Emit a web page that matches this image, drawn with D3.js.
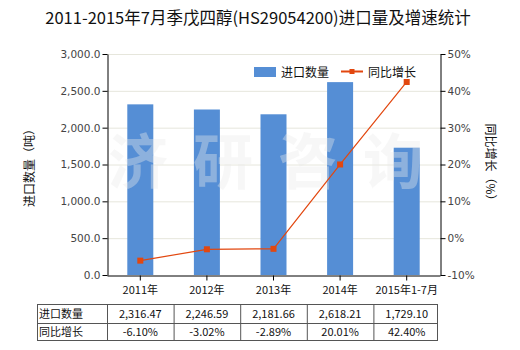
<!DOCTYPE html>
<html>
<head>
<meta charset="utf-8">
<script src="https://cdn.jsdelivr.net/npm/d3@7"></script>
<style>
  html, body { margin: 0; padding: 0; background: #fff; }
  svg { display: block; font-family: "Noto Sans CJK SC", "Noto Sans", sans-serif; }
</style>
</head>
<body>
<svg id="chart" width="520" height="350"></svg>
<script>
// Import volume (tonnes) and year-on-year growth (%) of pentaerythritol
const categories = ["2011年", "2012年", "2013年", "2014年", "2015年1-7月"];
const volumes = [2316.47, 2246.59, 2181.66, 2618.21, 1729.10];
const growth = [-6.10, -3.02, -2.89, 20.01, 42.40];
const volumeLabels = ["2,316.47", "2,246.59", "2,181.66", "2,618.21", "1,729.10"];
const growthLabels = ["-6.10%", "-3.02%", "-2.89%", "20.01%", "42.40%"];
const leftTicks = [0, 500, 1000, 1500, 2000, 2500, 3000];
const rightTicks = [-10, 0, 10, 20, 30, 40, 50];

const svg = d3.select("#chart");
const plot = { left: 107, right: 440, top: 54, bottom: 275 };

const xc = d3.scaleBand().domain(categories).range([plot.left, plot.right]);
const yL = d3.scaleLinear().domain([0, 3000]).range([plot.bottom, plot.top]);
const yR = d3.scaleLinear().domain([-10, 50]).range([plot.bottom, plot.top]);

const barColor = "#558ed5";
const lineColor = "#e2470f";

// Title
svg.append("text").attr("x", 258).attr("y", 24).attr("text-anchor", "middle")
  .attr("font-size", 16.5).attr("fill", "#111")
  .text("2011-2015年7月季戊四醇(HS29054200)进口量及增速统计");

// Grid lines
svg.append("g").selectAll("line").data(leftTicks.filter(d => d > 0)).join("line")
  .attr("x1", plot.left).attr("x2", plot.right)
  .attr("y1", d => yL(d) + 0.5).attr("y2", d => yL(d) + 0.5)
  .attr("stroke", "#e6e6dc").attr("stroke-width", 1);

// Bars
svg.append("g").selectAll("rect").data(categories).join("rect")
  .attr("x", d => xc(d) + xc.bandwidth() / 2 - 13)
  .attr("width", 26)
  .attr("y", (d, i) => yL(volumes[i]))
  .attr("height", (d, i) => plot.bottom - yL(volumes[i]))
  .attr("fill", barColor);

// Watermark
const wm = svg.append("g").attr("font-size", 60).attr("font-weight", "bold")
  .attr("fill", "#ebebeb").attr("fill-opacity", 0.38).attr("text-anchor", "middle");
["济", "研", "咨", "询"].forEach((c, i) => {
  wm.append("text").attr("x", 138 + i * 85).attr("y", 184).text(c);
});

// Axes
const axisStyle = g => {
  g.selectAll(".domain").attr("stroke", "#000");
  g.selectAll(".tick line").attr("stroke", "#000");
  g.selectAll(".tick text").attr("fill", "#444").attr("font-size", 10.5)
    .attr("font-family", "'DejaVu Sans', sans-serif");
};
svg.append("g").attr("transform", `translate(${plot.left + 0.5},0)`)
  .call(d3.axisLeft(yL).tickValues(leftTicks).tickSize(5).tickSizeOuter(0).tickPadding(2)
    .tickFormat(d3.format(",.1f")))
  .call(axisStyle);
svg.append("g").attr("transform", `translate(${plot.right + 0.5},0)`)
  .call(d3.axisRight(yR).tickValues(rightTicks).tickSize(5).tickSizeOuter(0).tickPadding(2)
    .tickFormat(d => d + "%"))
  .call(axisStyle);
svg.append("g").attr("transform", `translate(0,${plot.bottom + 0.5})`)
  .call(d3.axisBottom(xc).tickSize(5).tickSizeOuter(0).tickPadding(4))
  .call(axisStyle)
  .selectAll(".tick text").attr("fill", "#111").attr("font-size", 11)
  .attr("font-family", "'Noto Sans CJK SC', sans-serif").attr("dy", "0.9em");

// Axis titles
svg.append("text").attr("transform", "translate(34,165) rotate(-90)").attr("text-anchor", "middle")
  .attr("font-size", 12).attr("fill", "#111").text("进口数量（吨）");
svg.append("text").attr("transform", "translate(486,165) rotate(90)").attr("text-anchor", "middle")
  .attr("font-size", 12).attr("fill", "#111").text("同比增长（%）");

// Growth line
const line = d3.line().x((d, i) => xc(categories[i]) + xc.bandwidth() / 2).y(d => yR(d));
svg.append("path").datum(growth).attr("d", line).attr("fill", "none")
  .attr("stroke", lineColor).attr("stroke-width", 1.2);
svg.append("g").selectAll("rect").data(growth).join("rect")
  .attr("x", (d, i) => xc(categories[i]) + xc.bandwidth() / 2 - 3)
  .attr("y", d => yR(d) - 3).attr("width", 6).attr("height", 6).attr("fill", lineColor);

// Legend
const lg = svg.append("g").attr("font-size", 12).attr("fill", "#111");
lg.append("rect").attr("x", 254).attr("y", 67).attr("width", 22).attr("height", 10).attr("fill", barColor);
lg.append("text").attr("x", 281).attr("y", 77).text("进口数量");
lg.append("line").attr("x1", 341).attr("x2", 363).attr("y1", 71.5).attr("y2", 71.5)
  .attr("stroke", lineColor).attr("stroke-width", 2);
lg.append("rect").attr("x", 349.5).attr("y", 69).attr("width", 5).attr("height", 5).attr("fill", lineColor);
lg.append("text").attr("x", 368).attr("y", 77).text("同比增长");

// Data table
const table = { left: 37, top: 304, mid: 323, bottom: 340 };
const tg = svg.append("g").attr("stroke", "#555").attr("stroke-width", 1).attr("fill", "none");
const colEdges = [table.left].concat(categories.map(c => xc(c))).concat([xc(categories[4]) + xc.bandwidth() - 3]);
tg.append("rect").attr("x", table.left + 0.5).attr("y", table.top + 0.5)
  .attr("width", colEdges[colEdges.length - 1] - table.left).attr("height", table.bottom - table.top);
tg.append("line").attr("x1", table.left).attr("x2", colEdges[colEdges.length - 1])
  .attr("y1", table.mid + 0.5).attr("y2", table.mid + 0.5);
tg.selectAll(".col").data(colEdges.slice(1, -1)).join("line")
  .attr("x1", d => d + 0.5).attr("x2", d => d + 0.5).attr("y1", table.top).attr("y2", table.bottom);

const tt = svg.append("g").attr("font-size", 11).attr("fill", "#111");
tt.append("text").attr("x", 39).attr("y", 318).text("进口数量");
tt.append("text").attr("x", 39).attr("y", 336).text("同比增长");
const cx = (d, i) => xc(categories[i]) + xc.bandwidth() / 2;
tt.selectAll(".v").data(volumeLabels).join("text").attr("text-anchor", "middle")
  .attr("x", cx).attr("y", 318).text(d => d);
tt.selectAll(".g").data(growthLabels).join("text").attr("text-anchor", "middle")
  .attr("x", cx).attr("y", 336).text(d => d);
</script>
</body>
</html>
